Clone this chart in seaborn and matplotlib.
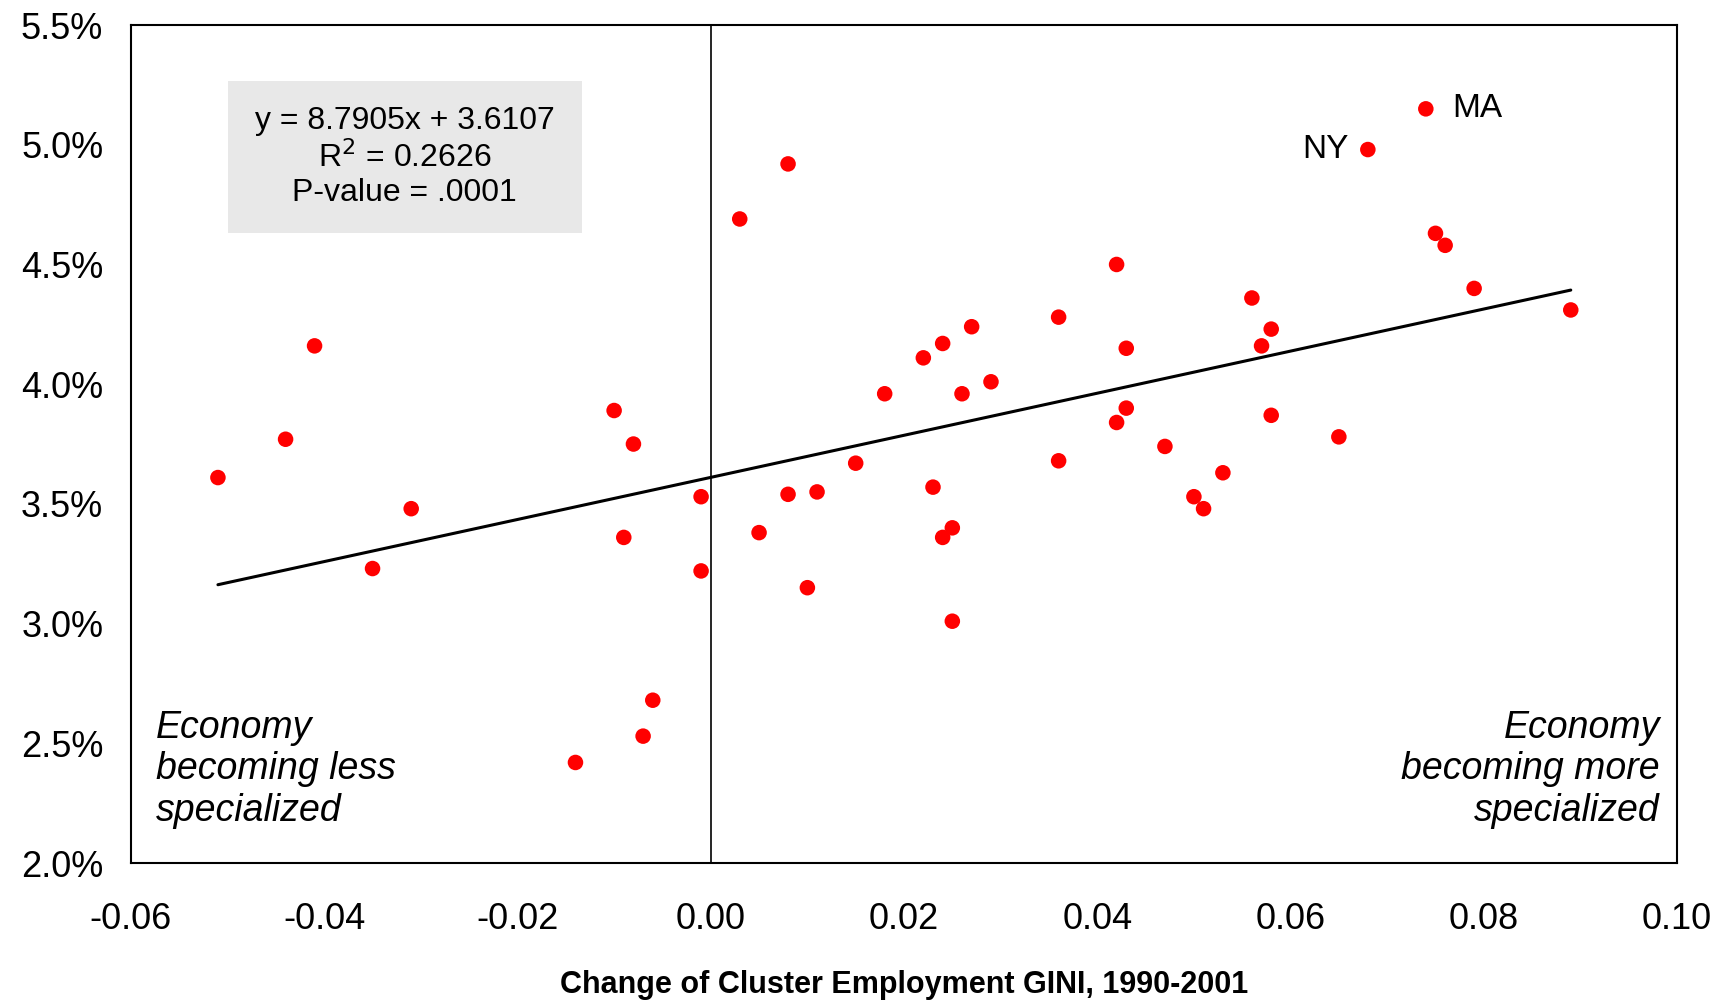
import numpy as np
import pandas as pd
import seaborn as sns
import matplotlib.pyplot as plt

# change of cluster employment GINI vs growth (in %)
gini_change = [-0.051, -0.044, -0.041, -0.035, -0.031, -0.014, -0.010, -0.008, -0.009,
               -0.006, -0.007, -0.001, -0.001, 0.003, 0.008, 0.005, 0.008, 0.011, 0.010,
               0.015, 0.018, 0.022, 0.024, 0.027, 0.023, 0.026, 0.029, 0.024, 0.025,
               0.025, 0.036, 0.036, 0.042, 0.043, 0.043, 0.042, 0.047, 0.050, 0.051,
               0.053, 0.056, 0.057, 0.058, 0.058, 0.065, 0.068, 0.074, 0.075, 0.076,
               0.079, 0.089]
growth = [3.61, 3.77, 4.16, 3.23, 3.48, 2.42, 3.89, 3.75, 3.36,
          2.68, 2.53, 3.53, 3.22, 4.69, 4.92, 3.38, 3.54, 3.55, 3.15,
          3.67, 3.96, 4.11, 4.17, 4.24, 3.57, 3.96, 4.01, 3.36, 3.40,
          3.01, 4.28, 3.68, 4.50, 4.15, 3.90, 3.84, 3.74, 3.53, 3.48,
          3.63, 4.36, 4.16, 4.23, 3.87, 3.78, 4.98, 5.15, 4.63, 4.58,
          4.40, 4.31]
labels = {45: 'NY', 46: 'MA'}  # index -> state label

slope, intercept = 8.7905, 3.6107
x_ticks = [-0.06, -0.04, -0.02, 0.00, 0.02, 0.04, 0.06, 0.08, 0.10]
y_ticks = [2.0, 2.5, 3.0, 3.5, 4.0, 4.5, 5.0, 5.5]

df = pd.DataFrame({'x': gini_change, 'y': growth})
xs = np.sort(df['x'].unique())
fit = pd.DataFrame({'x': xs, 'y': slope * xs + intercept})

sns.set_style('white')
plt.rcParams['font.family'] = ['Liberation Sans', 'DejaVu Sans']
plt.rcParams.update({'text.color': 'black', 'axes.labelcolor': 'black',
                     'xtick.color': 'black', 'ytick.color': 'black'})

fig = plt.figure(figsize=(17.3, 10.02), dpi=100)
ax = fig.add_axes([0.0757, 0.1387, 0.8937, 0.8363])

ax.axvline(0, color='black', lw=1.2, zorder=1)
sns.lineplot(data=fit, x='x', y='y', ax=ax, color='black', lw=2.2, zorder=2)
sns.scatterplot(data=df, x='x', y='y', ax=ax, color='#ff0000', s=125,
                edgecolor='none', zorder=3)

for i, name in labels.items():
    if name == 'MA':
        ax.text(gini_change[i] + 0.0027, growth[i], name, fontsize=24,
                ha='left', va='center')
    else:
        ax.text(gini_change[i] - 0.002, growth[i], name, fontsize=24,
                ha='right', va='center')

ax.set_xlim(-0.06, 0.10)
ax.set_ylim(2.0, 5.5)
ax.set_xticks(x_ticks)
ax.set_xticklabels([f'{t:.2f}' for t in x_ticks])
ax.set_yticks(y_ticks)
ax.set_yticklabels([f'{t:.1f}%' for t in y_ticks])
ax.tick_params(axis='x', labelsize=26, length=6, width=1.2, pad=22, direction='out')
ax.tick_params(axis='y', labelsize=26, length=6, width=1.2, pad=14, direction='out')
ax.set_ylabel('')
ax.set_xlabel('Change of Cluster Employment GINI, 1990-2001', fontsize=22,
              fontweight='bold', labelpad=24)
for s in ax.spines.values():
    s.set_color('black')
    s.set_linewidth(1.5)

# equation box
ax.add_patch(plt.Rectangle((0.0627, 0.752), 0.229, 0.181, transform=ax.transAxes,
                           facecolor='#e8e8e8', edgecolor='none', zorder=1))
ax.text(0.177, 0.8425, 'y = 8.7905x + 3.6107\nR$^2$ = 0.2626\nP-value = .0001',
        transform=ax.transAxes, ha='center', va='center', fontsize=23,
        linespacing=1.2, zorder=4)

ax.text(0.016, 0.112, 'Economy\nbecoming less\nspecialized', transform=ax.transAxes,
        ha='left', va='center', fontsize=27, style='italic', linespacing=1.2)
ax.text(0.989, 0.112, 'Economy\nbecoming more\nspecialized', transform=ax.transAxes,
        ha='right', va='center', fontsize=27, style='italic', linespacing=1.2,
        multialignment='right')

fig.savefig('out.png', dpi=100)
